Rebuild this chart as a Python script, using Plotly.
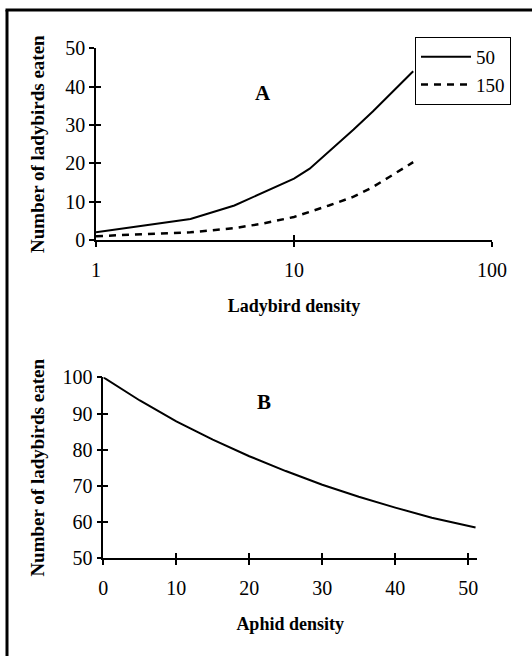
import plotly.graph_objects as go

# ---- Data ----
ladybird_density = [1, 3, 5, 7, 10, 12, 15, 20, 25, 30, 35, 40]
eaten_50 = [2.0, 5.5, 9.0, 12.5, 16.0, 18.6, 23.0, 28.8, 33.5, 37.5, 41.0, 44.0]
eaten_150 = [1.0, 2.0, 3.1, 4.3, 6.0, 7.3, 9.0, 11.3, 13.8, 16.3, 18.5, 20.3]

aphid_density = [0, 5, 10, 15, 20, 25, 30, 35, 40, 45, 51]
eaten_b = [100, 93.6, 87.8, 82.8, 78.2, 74.1, 70.3, 67.0, 64.0, 61.2, 58.5]

xa_ticks = [1, 10, 100]
ya_ticks = [0, 10, 20, 30, 40, 50]
xb_ticks = [0, 10, 20, 30, 40, 50]
yb_ticks = [50, 60, 70, 80, 90, 100]

W, H = 532, 656
FONT = "Liberation Serif, Times New Roman, Tinos, serif"

fig = go.Figure()

fig.add_trace(go.Scatter(x=ladybird_density, y=eaten_50, mode="lines", name="50",
                         line=dict(color="black", width=2), xaxis="x", yaxis="y"))
fig.add_trace(go.Scatter(x=ladybird_density, y=eaten_150, mode="lines", name="150",
                         line=dict(color="black", width=2.5, dash="7px,6px"), xaxis="x", yaxis="y"))
fig.add_trace(go.Scatter(x=aphid_density, y=eaten_b, mode="lines", name="B",
                         line=dict(color="black", width=2), xaxis="x2", yaxis="y2",
                         showlegend=False))
# invisible traces to hold overlay tick axes (ticks crossing the axis line)
fig.add_trace(go.Scatter(x=[None], y=[None], xaxis="x3", yaxis="y3", showlegend=False,
                         hoverinfo="skip"))
fig.add_trace(go.Scatter(x=[None], y=[None], xaxis="x4", yaxis="y4", showlegend=False,
                         hoverinfo="skip"))

ax_common = dict(showline=True, linecolor="black", linewidth=1.5, showgrid=False,
                 zeroline=False, ticks="outside", ticklen=5, tickwidth=1.5,
                 tickcolor="black", automargin=False,
                 tickfont=dict(family=FONT, size=20, color="black"))
ov_common = dict(showline=False, showgrid=False, zeroline=False, ticks="inside",
                 ticklen=5, tickwidth=1.5, tickcolor="black", showticklabels=False,
                 automargin=False)

xa_dom = [96 / W, 492 / W]
ya_dom = [1 - 240 / H, 1 - 48.3 / H]
xb_dom = [103.3 / W, 477 / W]
yb_dom = [1 - 558.3 / H, 1 - 377.3 / H]

xtitle_font = dict(family=FONT, size=18, color="black")
ytitle_font = dict(family=FONT, size=19, color="black")

fig.update_layout(
    template="none",
    width=W, height=H,
    margin=dict(l=0, r=0, t=0, b=0, pad=0, autoexpand=False),
    paper_bgcolor="white", plot_bgcolor="white",
    showlegend=True,
    legend=dict(x=415 / W, y=1 - 37 / H, xanchor="left", yanchor="top",
                bordercolor="black", borderwidth=1, bgcolor="white",
                font=dict(family=FONT, size=19, color="black"),
                itemwidth=50, tracegroupgap=4),
    xaxis=dict(**ax_common, type="log", range=[0, 2], domain=xa_dom, anchor="y",
               tickvals=xa_ticks, ticktext=[str(v) for v in xa_ticks],
               ticklabelstandoff=6,
               title=dict(text="<b>Ladybird density</b>", font=xtitle_font, standoff=20)),
    yaxis=dict(**ax_common, range=[0, 50], domain=ya_dom, anchor="x",
               tickvals=ya_ticks,
               title=dict(text="<b>Number of ladybirds eaten</b>", font=ytitle_font, standoff=16)),
    xaxis2=dict(**ax_common, range=[0, 51.2], domain=xb_dom, anchor="y2",
                tickvals=xb_ticks, ticklabelstandoff=6,
                title=dict(text="<b>Aphid density</b>", font=xtitle_font, standoff=19)),
    yaxis2=dict(**ax_common, range=[50, 100], domain=yb_dom, anchor="x2",
                tickvals=yb_ticks,
                title=dict(text="<b>Number of ladybirds eaten</b>", font=ytitle_font, standoff=13)),
    xaxis3=dict(**ov_common, type="log", range=[0, 2], overlaying="x", anchor="y3",
                tickvals=xa_ticks),
    yaxis3=dict(**ov_common, range=[0, 50], overlaying="y", anchor="x3",
                tickvals=ya_ticks),
    xaxis4=dict(**ov_common, range=[0, 51.2], overlaying="x2", anchor="y4",
                tickvals=xb_ticks),
    yaxis4=dict(**ov_common, range=[50, 100], overlaying="y2", anchor="x4",
                tickvals=yb_ticks),
)

fig.add_annotation(x=0.843, y=38.4, xref="x", yref="y", text="<b>A</b>", showarrow=False,
                   font=dict(family=FONT, size=21, color="black"))
fig.add_annotation(x=22.0, y=93.3, xref="x2", yref="y2", text="<b>B</b>", showarrow=False,
                   font=dict(family=FONT, size=21, color="black"))

# outer frame: only the left and top edges are visible in the reference
frame_line = dict(color="black", width=3)
fig.add_shape(type="line", xref="paper", yref="paper",
              x0=7 / W, x1=7 / W, y0=0, y1=1 - 10 / H, line=frame_line, layer="above")
fig.add_shape(type="line", xref="paper", yref="paper",
              x0=7 / W - 1.5 / W, x1=1, y0=1 - 10 / H, y1=1 - 10 / H, line=frame_line,
              layer="above")

fig.write_html("out.html",
               config={"displayModeBar": False},
               post_script="document.body.style.margin='0px';document.body.style.overflow='hidden';")
